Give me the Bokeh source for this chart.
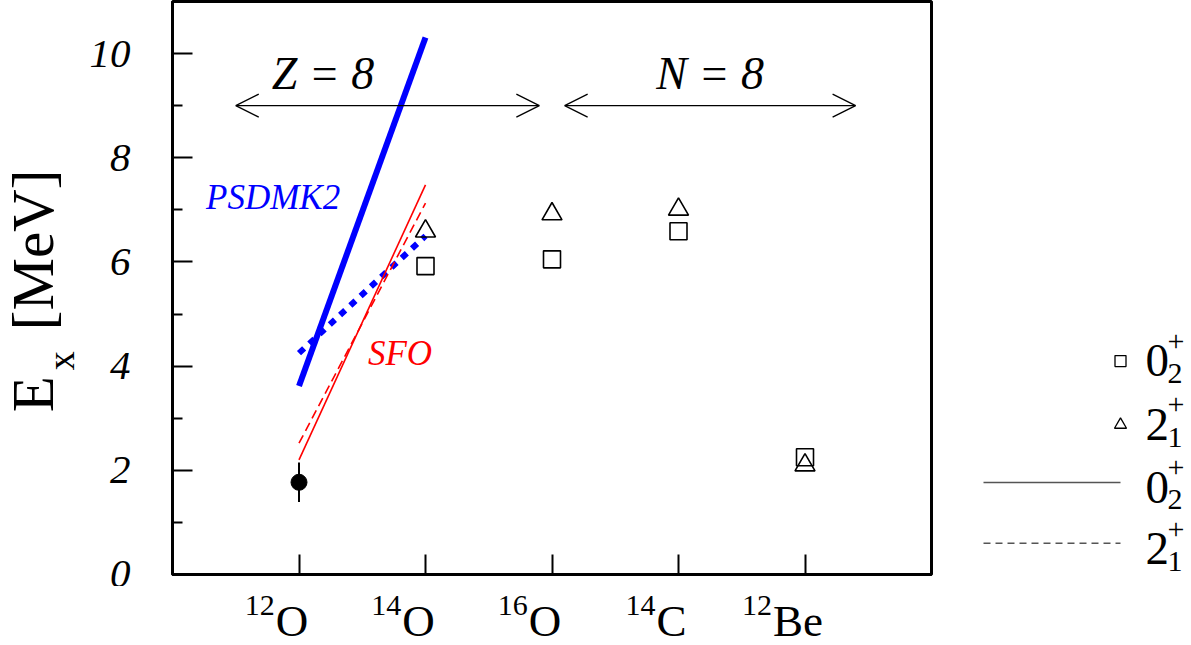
import math
from bokeh.plotting import figure
from bokeh.models import Range1d, FixedTicker, Label, Arrow, OpenHead
from bokeh.layouts import row, column
from bokeh.embed import file_html
from bokeh.resources import INLINE

# ---------------- data ----------------
nuclei = ["12O", "14O", "16O", "14C", "12Be"]
mass_numbers = ["12", "14", "16", "14", "12"]
elements = ["O", "O", "O", "C", "Be"]

# measured 0+2 in 12O (filled circle with error bar)
o12_nucleus = ["12O"]
o12_ex = [1.77]
o12_err = [0.38]

# experimental levels (open symbols)
exp_nuclei = ["14O", "16O", "14C", "12Be"]
exp_0p2 = [5.92, 6.05, 6.59, 2.25]
exp_2p1 = [6.59, 6.92, 7.01, 2.10]

# shell-model calculations for 12O -> 14O
calc_nuclei = ["12O", "14O"]
sfo_0p2 = [2.20, 7.48]
sfo_2p1 = [2.52, 7.13]
psdmk2_0p2 = [3.62, 10.31]
psdmk2_2p1 = [4.25, 6.50]

y_ticks = [0, 2, 4, 6, 8, 10]
y_minor = [1, 3, 5, 7, 9]

Z8_span = [-0.5, 1.9]
N8_span = [2.1, 4.4]
arrow_level = 9.0

legend_rows = [("0", "2"), ("2", "1"), ("0", "2"), ("2", "1")]

# ---------------- helpers ----------------
pos = {n: i for i, n in enumerate(nuclei)}
FONT = "Liberation Serif"
EM = {"O": 0.722, "C": 0.667, "B": 0.667, "e": 0.444}
K = 0.34  # baseline correction (fraction of font size)


def lab(fig, x, y, text, size, rotated=False, dx=0.0, dy=0.0, **kw):
    px = float(size.replace("px", ""))
    d = dict(x=x, y=y, text=text, text_font=FONT, text_font_size=size,
             text_color="black", text_align="left", text_baseline="alphabetic")
    if rotated:
        d["angle"] = math.pi / 2
        d["x_offset"] = -K * px + dx
        d["y_offset"] = dy
    else:
        d["x_offset"] = dx
        d["y_offset"] = K * px + dy
    d.update(kw)
    fig.add_layout(Label(**d))


def bare(fig):
    fig.grid.visible = False
    fig.outline_line_color = None
    fig.background_fill_color = "white"
    fig.border_fill_color = "white"


# ---------------- main plot ----------------
p = figure(width=854, height=586, x_range=Range1d(-1, 5), y_range=Range1d(0, 11.0),
           output_backend="svg", toolbar_location=None,
           min_border_left=92, min_border_right=3, min_border_top=1, min_border_bottom=12)
p.grid.visible = False
p.background_fill_color = "white"
p.border_fill_color = "white"
p.outline_line_color = "black"
p.outline_line_width = 3
p.outline_line_alpha = 1.0

xa = p.xaxis[0]
xa.ticker = FixedTicker(ticks=list(range(len(nuclei))))
xa.major_label_overrides = {i: "" for i in range(len(nuclei))}
xa.major_label_text_font_size = "0px"
xa.major_label_standoff = 0
xa.major_tick_in = 20
xa.major_tick_out = 0
xa.minor_tick_in = 0
xa.minor_tick_out = 0
xa.major_tick_line_width = 2
xa.axis_line_width = 3

ya = p.yaxis[0]
ya.ticker = FixedTicker(ticks=y_ticks, minor_ticks=y_minor)
ya.major_tick_in = 20
ya.major_tick_out = 0
ya.minor_tick_in = 10
ya.minor_tick_out = 0
ya.major_tick_line_width = 2
ya.minor_tick_line_width = 2
ya.axis_line_width = 3
ya.major_label_standoff = 42
ya.major_label_text_font = FONT
ya.major_label_text_font_style = "italic"
ya.major_label_text_font_size = "41px"
ya.major_label_text_color = "black"

cx = [pos[n] for n in calc_nuclei]
p.line(cx, psdmk2_0p2, line_color="#0000ff", line_width=6)
p.line(cx, psdmk2_2p1, line_color="#0000ff", line_width=6, line_dash="7 7")
p.line(cx, sfo_0p2, line_color="#ff0000", line_width=1.6)
p.line(cx, sfo_2p1, line_color="#ff0000", line_width=1.6, line_dash="9 5")

ox = [pos[n] for n in o12_nucleus]
p.segment(x0=ox, y0=[v - e for v, e in zip(o12_ex, o12_err)],
          x1=ox, y1=[v + e for v, e in zip(o12_ex, o12_err)],
          line_color="black", line_width=2)
p.scatter(ox, o12_ex, marker="circle", size=16, fill_color="black", line_color="black")

ex = [pos[n] for n in exp_nuclei]
p.scatter(ex, exp_0p2, marker="square", size=17, fill_color=None, line_color="black", line_width=1.6)
p.scatter(ex, exp_2p1, marker="triangle", size=20, fill_color=None, line_color="black", line_width=1.6)

for span in (Z8_span, N8_span):
    p.add_layout(Arrow(x_start=span[0], y_start=arrow_level, x_end=span[1], y_end=arrow_level,
                       line_width=1.3, line_color="black",
                       start=OpenHead(size=23, line_width=1.3, line_color="black"),
                       end=OpenHead(size=23, line_width=1.3, line_color="black")))

lab(p, sum(Z8_span) / 2 - 0.51, 9.31, "Z = 8", "46px", text_font_style="italic", text_align="center")
lab(p, sum(N8_span) / 2, 9.31, "N = 8", "46px", text_font_style="italic", text_align="center")
lab(p, -0.735, 7.0, "PSDMK2", "35px", text_font_style="italic", text_color="#0000ff")
lab(p, 0.545, 4.02, "SFO", "35px", text_font_style="italic", text_color="#ff0000")

# ---------------- y-axis title strip (left) ----------------
left = figure(width=80, height=586, x_range=Range1d(0, 80), y_range=p.y_range,
              output_backend="svg", toolbar_location=None,
              min_border_left=0, min_border_right=0, min_border_top=1, min_border_bottom=12,
              x_axis_location=None, y_axis_location=None)
bare(left)
lab(left, 53, 3.115, "E", "59px", rotated=True)
lab(left, 73, 3.923, "x", "38px", rotated=True)
lab(left, 53, 4.69, "[MeV]", "59px", rotated=True)

# ---------------- x tick-label strip (below) ----------------
bottom = figure(width=854, height=58, x_range=p.x_range, y_range=Range1d(58, 0),
                output_backend="svg", toolbar_location=None,
                min_border_left=92, min_border_right=3, min_border_top=0, min_border_bottom=0,
                x_axis_location=None, y_axis_location=None)
bare(bottom)
for i, (a, el) in enumerate(zip(mass_numbers, elements)):
    w = sum(EM.get(c, 0.6) for c in el) * 45
    lab(bottom, i, 50, el, "45px", text_align="center", dx=-7)
    lab(bottom, i, 29, a, "30px", text_align="right", dx=-7 - w / 2 - 1)

# ---------------- legend panel (right) ----------------
L = figure(width=256, height=644, x_range=Range1d(0, 256), y_range=Range1d(644, 0),
           output_backend="svg", toolbar_location=None, min_border=0,
           x_axis_location=None, y_axis_location=None)
bare(L)
L.scatter([186], [367], marker="square", size=11, fill_color=None, line_color="black", line_width=1.3)
L.scatter([186], [432], marker="triangle", size=12, fill_color=None, line_color="black", line_width=1.3)
L.line([49, 186], [491, 491], line_color="#555555", line_width=1.5)
L.line([49, 186], [553, 553], line_color="#555555", line_width=1.5, line_dash="7 5")

baselines = [383, 448, 512, 575]
for (main, sub), b in zip(legend_rows, baselines):
    lab(L, 211, b, main, "47px")
    lab(L, 233, b + 7, sub, "30px")
    lab(L, 233, b - 26, "+", "30px")

layout = row(left, column(p, bottom), L)
open("out.html", "w").write(file_html(layout, INLINE))
